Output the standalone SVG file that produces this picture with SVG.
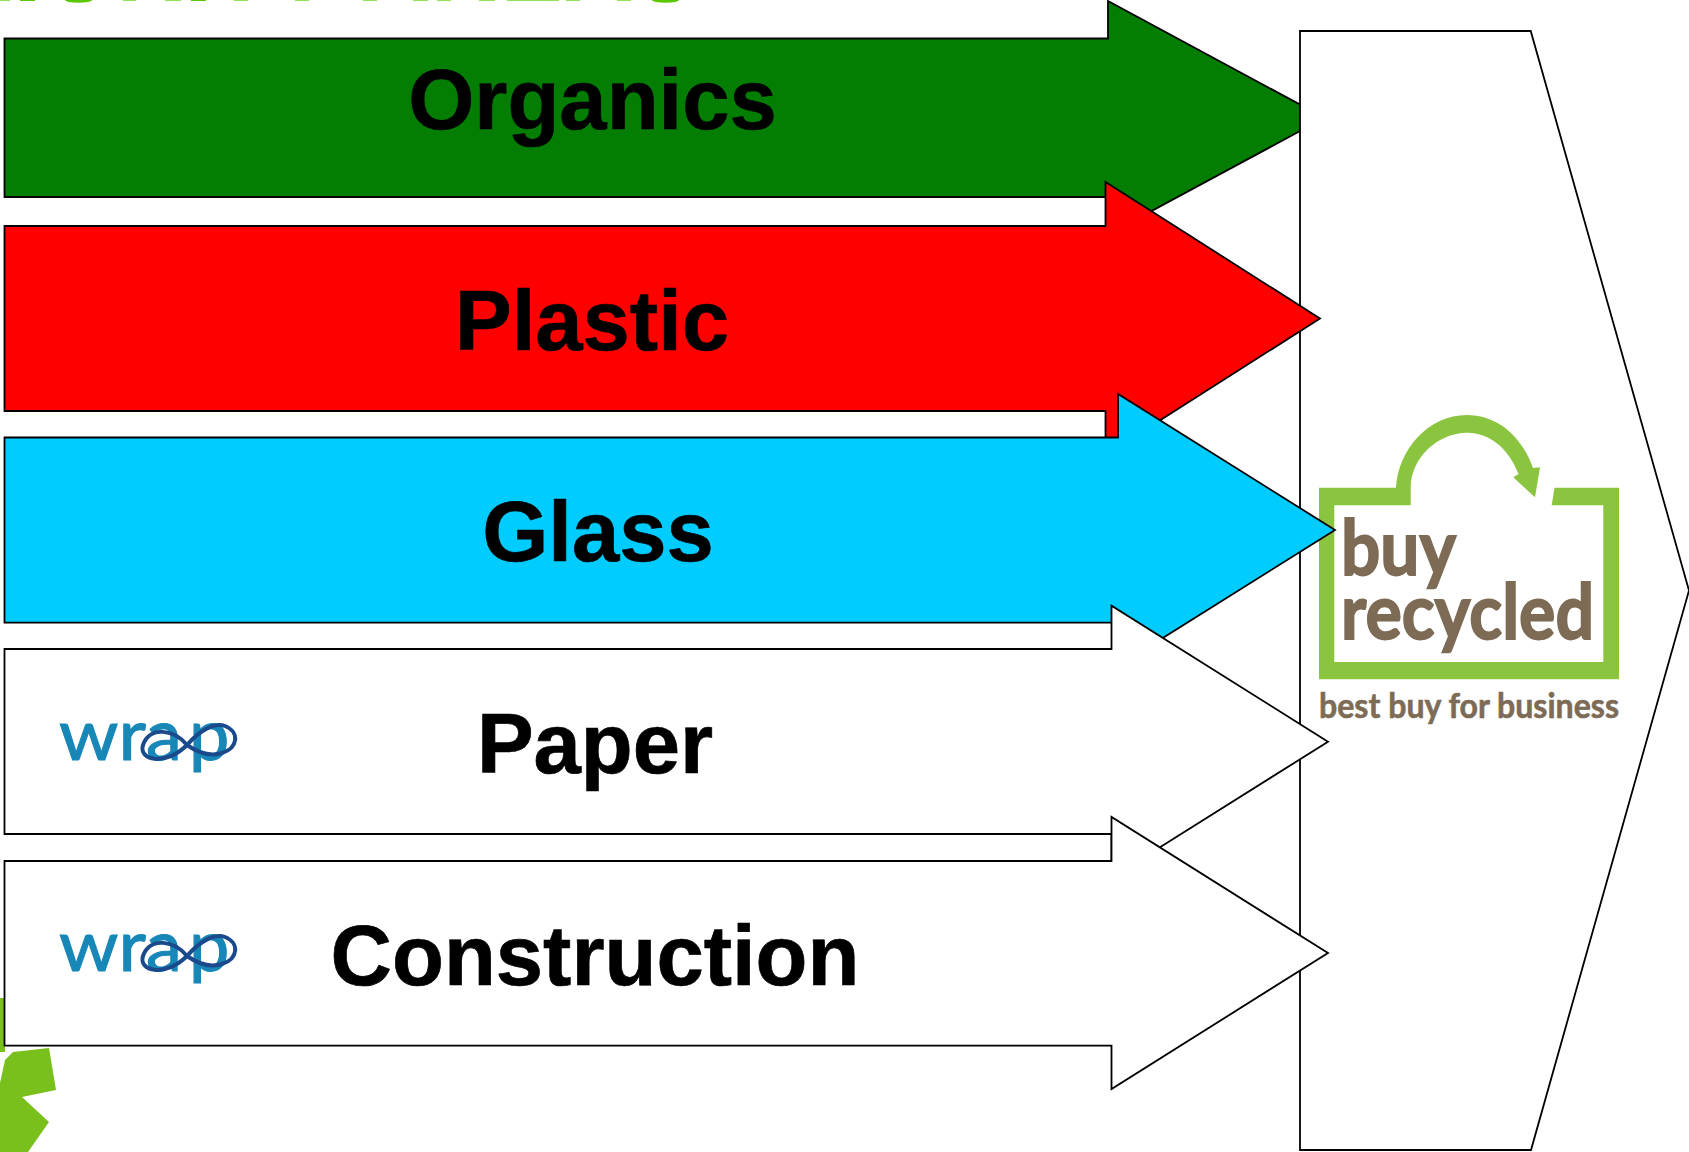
<svg xmlns="http://www.w3.org/2000/svg" width="1689" height="1152" viewBox="0 0 1689 1152">
<style>
.a{stroke:#000;stroke-width:1.8;stroke-linejoin:miter}
.l{font-family:"Liberation Sans",Arial,sans-serif;font-weight:700;font-size:85px;fill:#000;stroke:#000;stroke-width:.7;text-anchor:middle}
.w{font-family:"Lato","Open Sans",sans-serif;font-size:72px;fill:#1787b8;stroke:#1787b8;stroke-width:1.1}
.b{font-family:"Lato","Open Sans",sans-serif;font-weight:700;fill:#7d6b55;stroke:#7d6b55}
.g{fill:#7ac01c}
.t1{fill:#93e05a}
.t2{fill:#5bc800}
</style>
<defs>
<g id="wrap-logo">
<text class="w" y="760"><tspan x="59" textLength="87" lengthAdjust="spacingAndGlyphs">wr</tspan><tspan x="146 189">ap</tspan></text>
<path d="M187 745C175 730 150 725 143 745C138 760 165 767 187 745C200 730 215 722 225 726C240 732 238 748 222 753C210 757 197 752 187 745Z" fill="none" stroke="#1b4a8c" stroke-width="4"/>
</g>
</defs>
<rect width="1689" height="1152" fill="#fff"/>
<g id="decor">
<rect class="g" x="0" y="998" width="5" height="54"/>
<polygon class="g" points="0,1083 5,1060 13,1052 49,1048 56,1090 22,1097 49,1122 28,1152 0,1152"/>
</g>
<g id="title">
<rect class="t1" x="0" y="0" width="10" height="1"/><rect class="t2" x="20" y="0" width="15" height="1"/><ellipse class="t2" cx="78.500" cy="0" rx="13.500" ry="2.800"/><rect class="t1" x="123" y="0" width="13" height="1"/><rect class="t1" x="165" y="0" width="16" height="1"/><rect class="t2" x="191" y="0" width="15" height="1"/><rect class="t1" x="234" y="0" width="14" height="1"/><rect class="t1" x="295" y="0" width="14" height="1"/><rect class="t1" x="363" y="0" width="14" height="1"/><rect class="t1" x="413" y="0" width="15" height="1"/><rect class="t1" x="437" y="0" width="14" height="1"/><rect class="t1" x="479" y="0" width="16" height="1"/><rect class="t1" x="507" y="0" width="52" height="1"/><rect class="t1" x="566" y="0" width="14" height="1"/><rect class="t1" x="617" y="0" width="14" height="1"/><ellipse class="t2" cx="665.500" cy="0" rx="13.500" ry="2.800"/>
</g>
<g id="organics"><polygon class="a" fill="#047d03" points="4.5,38.5 1108,38.5 1108,1 1324.6,117.8 1108,234.5 1108,197 4.5,197"/><text class="l" x="592.500" y="129">Organics</text></g>
<g id="target"><polygon class="a" fill="#fff" points="1300,31 1530.7,31 1689,590.5 1531,1150 1300,1150"/></g>
<g id="buy-recycled">
<path style="fill:#8bc53f" fill-rule="evenodd" d="M1319 487.7H1396C1398 450 1428 415 1467 415C1498 415 1522 437 1533 468L1540 467.3L1535 497.3L1513.3 477.3L1518.5 474C1509 449 1490 432.7 1467 432.7C1438 432.7 1410.7 458 1410.7 487.7V505.3H1334.3V662H1603.3V505.3H1551.7L1554.5 487.7H1619V679.3H1319Z"/>
<text class="b" x="1341" y="575" font-size="76" stroke-width="1.8" textLength="115" lengthAdjust="spacingAndGlyphs">buy</text>
<text class="b" x="1341" y="639" font-size="76" stroke-width="1.8" textLength="253" lengthAdjust="spacingAndGlyphs">recycled</text>
<text class="b" x="1319" y="718" font-size="35" stroke-width=".6" textLength="300" lengthAdjust="spacingAndGlyphs">best buy for business</text>
</g>
<g id="plastic"><polygon class="a" fill="#f00" points="4.5,226 1105.5,226 1105.5,182 1320,318.5 1105.5,455 1105.5,411 4.5,411"/><text class="l" x="592" y="350">Plastic</text></g>
<g id="glass"><polygon class="a" fill="#0cf" points="4.5,437.5 1118,437.5 1118,394 1335,530 1118,666 1118,622.7 4.5,622.7"/><text class="l" x="598" y="561">Glass</text></g>
<g id="paper"><polygon class="a" fill="#fff" points="4.5,649 1111.5,649 1111.5,605.7 1328,741.7 1111.5,877.7 1111.5,834 4.5,834"/><text class="l" x="595" y="773">Paper</text><use href="#wrap-logo"/></g>
<g id="construction"><polygon class="a" fill="#fff" points="4.5,861 1111.5,861 1111.5,817 1328,953 1111.5,1089 1111.5,1045.7 4.5,1045.7"/><text class="l" x="595" y="985">Construction</text><use href="#wrap-logo" y="211"/></g>
<g id="connectors"/>
</svg>
